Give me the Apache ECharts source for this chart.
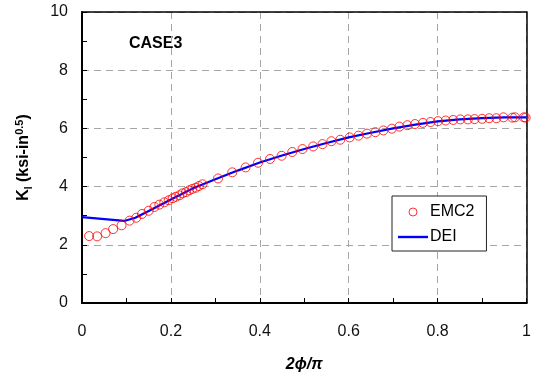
<!DOCTYPE html>
<html>
<head>
<meta charset="utf-8">
<script src="https://cdn.jsdelivr.net/npm/echarts@6/dist/echarts.min.js"></script>
<style>html,body{margin:0;padding:0;background:#fff}#c{width:534px;height:381px}</style>
</head>
<body>
<div id="c"></div>
<script>
var emc2X = [0.016,0.034,0.053,0.070,0.089,0.107,0.122,0.135,0.150,0.163,0.174,0.185,0.195,0.204,0.211,0.219,0.226,0.234,0.241,0.248,0.256,0.263,0.271,0.306,0.338,0.368,0.396,0.423,0.449,0.473,0.496,0.520,0.541,0.561,0.581,0.602,0.622,0.641,0.660,0.678,0.697,0.714,0.732,0.749,0.767,0.784,0.801,0.818,0.835,0.851,0.868,0.883,0.900,0.916,0.932,0.948,0.968,0.974,0.994,0.998];
var emc2Y = [2.30,2.29,2.40,2.54,2.67,2.83,2.93,3.06,3.17,3.30,3.38,3.46,3.53,3.60,3.65,3.70,3.77,3.81,3.87,3.92,3.96,4.02,4.08,4.28,4.49,4.66,4.82,4.95,5.06,5.19,5.29,5.38,5.46,5.56,5.61,5.69,5.75,5.82,5.87,5.93,5.99,6.06,6.11,6.15,6.19,6.22,6.25,6.27,6.29,6.31,6.31,6.32,6.33,6.35,6.35,6.38,6.37,6.38,6.38,6.37];
var deiX = [0,0.095,0.12,0.15,0.2,0.25,0.3,0.35,0.4,0.45,0.5,0.55,0.6,0.65,0.7,0.75,0.8,0.85,0.9,0.95,1.0];
var deiY = [2.95,2.82,2.93,3.16,3.56,3.94,4.25,4.55,4.83,5.07,5.29,5.50,5.69,5.85,6.00,6.13,6.24,6.31,6.35,6.38,6.38];
var xTicks = {min:0, max:1, interval:0.2};
var yTicks = {min:0, max:10, interval:2};

var chart = echarts.init(document.getElementById('c'));
var font = 'Liberation Sans, Arial, sans-serif';
var plainAxis = {
  type: 'value', axisLine: {show: true, onZero: false, lineStyle: {color: '#000', width: 1.5}},
  axisTick: {show: false}, axisLabel: {show: false}, splitLine: {show: false}
};
chart.setOption({
  animation: false,
  backgroundColor: '#fff',
  grid: {left: 82, right: 4, top: 12, bottom: 78},
  xAxis: [{
    type: 'value', min: xTicks.min, max: xTicks.max, interval: xTicks.interval, position: 'bottom',
    axisLine: {show: true, onZero: false, lineStyle: {color: '#000', width: 2}},
    axisTick: {show: true, inside: true, length: 5, lineStyle: {color: '#000', width: 1}},
    minorTick: {show: true, splitNumber: 2, length: 5, lineStyle: {color: '#000', width: 1}},
    axisLabel: {color: '#111', fontSize: 16, fontFamily: font, margin: 21, formatter: function(v){return String(+v.toFixed(1));}},
    splitLine: {show: true, lineStyle: {color: '#a6a6a6', type: [7,5], width: 1}},
    name: '2\u03d5/\u03c0', nameLocation: 'middle', nameGap: 54,
    nameTextStyle: {color: '#000', fontSize: 16, fontWeight: 'bold', fontStyle: 'italic', fontFamily: font}
  }, Object.assign({min: xTicks.min, max: xTicks.max, position: 'top'}, plainAxis)],
  yAxis: [{
    type: 'value', min: yTicks.min, max: yTicks.max, interval: yTicks.interval, position: 'left',
    axisLine: {show: true, onZero: false, lineStyle: {color: '#000', width: 2}},
    axisTick: {show: true, inside: true, length: 5, lineStyle: {color: '#000', width: 1}},
    minorTick: {show: true, splitNumber: 2, length: 5, lineStyle: {color: '#000', width: 1}},
    axisLabel: {color: '#111', fontSize: 16, fontFamily: font, margin: 14},
    splitLine: {show: true, lineStyle: {color: '#a6a6a6', type: [7,5], width: 1}},
    name: '{b|K}{s|I}{b| (ksi-in}{p|0.5}{b|)}', nameLocation: 'middle', nameGap: 48, nameRotate: 90,
    nameTextStyle: {
      color: '#000', fontFamily: font,
      rich: {
        b: {fontSize: 16, fontWeight: 'bold', fontFamily: font, color: '#000', verticalAlign: 'middle', lineHeight: 20},
        s: {fontSize: 10, fontWeight: 'bold', fontFamily: font, color: '#000', verticalAlign: 'bottom', padding: [6,0,0,0], lineHeight: 20},
        p: {fontSize: 11, fontWeight: 'bold', fontFamily: font, color: '#000', verticalAlign: 'top', padding: [0,0,10,0], lineHeight: 20}
      }
    }
  }, Object.assign({min: yTicks.min, max: yTicks.max, position: 'right'}, plainAxis)],
  legend: {
    orient: 'vertical', left: 392, top: 196,
    padding: [8, 12, 6, 6], itemGap: 9, itemWidth: 30, itemHeight: 8,
    backgroundColor: '#fff', borderColor: '#222', borderWidth: 1, borderRadius: 0,
    textStyle: {fontSize: 16, fontFamily: font, color: '#000', padding: [0,0,0,-3]},
    data: [
      {name: 'EMC2', icon: 'circle', itemStyle: {color: 'transparent', borderColor: '#ff0000', borderWidth: 1}},
      {name: 'DEI', icon: 'path://M0,0 L30,0 L30,2.4 L0,2.4 Z', itemStyle: {color: '#0000ff'}}
    ]
  },
  graphic: [{
    type: 'text', left: 129, top: 36,
    style: {text: 'CASE3', font: 'bold 16px Liberation Sans, Arial, sans-serif', fill: '#000'}
  }],
  series: [
    {
      name: 'DEI', type: 'line', symbol: 'none', z: 2,
      data: deiX.map(function(x, i){return [x, deiY[i]];}),
      lineStyle: {color: '#0000ff', width: 2.2}, itemStyle: {color: '#0000ff'}
    },
    {
      name: 'EMC2', type: 'scatter', symbol: 'circle', symbolSize: 9, z: 3,
      data: emc2X.map(function(x, i){return [x, emc2Y[i]];}),
      itemStyle: {color: 'transparent', borderColor: '#ff0000', borderWidth: 1}
    }
  ]
});
</script>
</body>
</html>
